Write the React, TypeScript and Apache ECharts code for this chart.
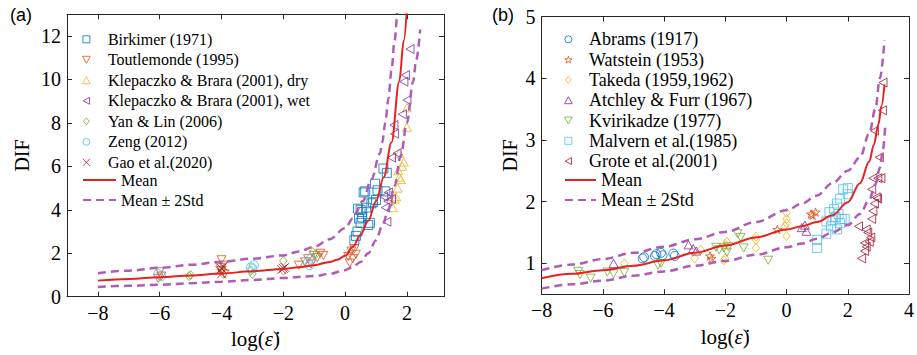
import { useEffect, useRef } from 'react';
import * as echarts from 'echarts';

// ---------- Panel (a) data ----------
const leftNames = [
  'Birkimer (1971)',
  'Toutlemonde (1995)',
  'Klepaczko & Brara (2001), dry',
  'Klepaczko & Brara (2001), wet',
  'Yan & Lin (2006)',
  'Zeng (2012)',
  'Gao et al.(2020)',
];
const birkimer = [[0.3,2.6],[0.35,2.8],[0.4,3.0],[0.45,3.6],[0.5,3.4],[0.5,4.0],[0.42,4.05],[0.55,3.9],[0.6,4.8],[0.65,4.85],[0.75,3.3],[0.8,3.4],[0.85,4.3],[0.9,4.35],[0.97,5.2],[1.0,4.45],[1.05,4.9],[1.24,5.9],[1.35,5.7],[1.3,4.85],[0.55,3.65],[0.68,4.1]];
const toutlemonde = [[-6,1.15],[-5.95,0.95],[-6.05,0.85],[-4,1.7],[-3.95,1.45],[-4,1.2],[-3.9,1.05],[-4.05,1.35],[-1.5,1.45],[-1.3,1.6],[-1.2,1.75],[-1.0,1.9],[-0.9,1.8],[-0.8,2.0],[-0.7,1.9],[-1.1,1.5],[0.1,1.85],[0.15,1.55],[0.2,2.1],[0.25,1.75],[0.3,2.2],[0.35,1.95]];
const klepDry = [[1.55,4.1],[1.6,4.5],[1.65,4.6],[1.7,5.0],[1.75,5.5],[1.72,5.8],[1.8,5.4],[1.85,6.0],[1.9,6.2],[1.75,6.6],[2.0,7.8],[2.0,8.7]];
const klepWet = [[1.35,3.45],[1.3,4.1],[1.38,4.4],[1.4,4.8],[1.25,4.6],[1.5,4.5],[1.5,6.4],[1.68,6.6],[1.6,7.5],[1.58,7.9],[1.85,8.4],[2.0,9.05],[1.9,9.9],[1.95,10.2],[2.1,11.4]];
const yanLin = [[-5,1.0],[-5.05,0.95],[-4,1.25],[-3.95,1.05],[-3.0,1.05],[-3.05,1.2],[-2,1.65],[-2,1.2],[-1.05,2.05],[-0.95,1.95]];
const zeng = [[-6.05,1.05],[-5.95,0.95],[-3.05,1.35],[-2.95,1.45],[-3.0,1.3],[-1.15,1.45],[-1.1,1.75],[-1.2,1.6]];
const gao = [[-4,1.3],[-4.05,1.2],[-3.95,1.4],[-4,1.05],[-2,1.3],[-2.05,1.25],[-1.95,1.35]];

const leftMean = [[-8,0.74],[-7,0.82],[-6,0.9],[-5,0.98],[-4,1.07],[-3,1.17],[-2,1.28],[-1.5,1.35],[-1,1.45],[-0.5,1.6],[-0.25,1.7],[0,1.88],[0.25,2.3],[0.5,2.85],[0.75,3.5],[1.0,4.4],[1.25,5.5],[1.5,7.1],[1.75,9.9],[1.9,11.8],[2.0,13.3]];
const leftUpper = [[-8,1.08],[-7,1.2],[-6,1.33],[-5,1.47],[-4,1.61],[-3,1.75],[-2,1.9],[-1.5,2.08],[-1,2.3],[-0.5,2.65],[0,3.15],[0.25,3.6],[0.57,4.4],[0.85,5.4],[1.13,6.6],[1.2,7.1],[1.3,8.0],[1.4,9.1],[1.5,10.4],[1.6,11.8],[1.68,13.1]];
const leftLower = [[-8,0.45],[-7,0.5],[-6,0.55],[-5,0.62],[-4,0.69],[-3,0.77],[-2,0.86],[-1,0.95],[-0.5,1.05],[0,1.22],[0.25,1.37],[0.5,1.6],[0.75,2.0],[1.0,2.6],[1.2,3.25],[1.4,4.0],[1.6,5.1],[1.8,6.5],[2.0,8.0],[2.2,9.9],[2.3,10.9],[2.43,12.3]];

// ---------- Panel (b) data ----------
const rightNames = [
  'Abrams (1917)',
  'Watstein (1953)',
  'Takeda (1959,1962)',
  'Atchley & Furr (1967)',
  'Kvirikadze (1977)',
  'Malvern et al.(1985)',
  'Grote et al.(2001)',
];
const abrams = [[-4.7,1.08],[-4.65,1.1],[-4.3,1.12],[-4.25,1.15],[-4.1,1.17],[-4.05,1.13],[-3.7,1.16],[-3.65,1.12]];
const watstein = [[-2.5,1.12],[-2.45,1.08],[-0.3,1.55],[0.8,1.8],[0.95,1.83],[0.85,1.78]];
const takeda = [[-5.3,1.0],[-3.0,1.08],[-2.8,1.22],[-2.0,1.3],[-2.0,1.08],[-1.95,1.35],[-2.05,1.05],[-1.0,1.43],[-1.0,1.38],[-1.0,1.25],[0,1.82],[0,1.72],[0,1.65],[0,1.44],[-0.05,1.6]];
const atchley = [[-5.65,1.0],[-3.2,1.3],[-3.05,1.24],[-2.95,1.2],[0.5,1.58],[0.6,1.62],[0.65,1.52]];
const kvirikadze = [[-6.8,0.87],[-6.75,0.82],[-6.4,0.76],[-5.85,0.86],[-5.65,0.83],[-5.3,0.85],[-4.2,0.97],[-4.1,1.0],[-2.3,1.26],[-2.2,1.22],[-2.05,1.25],[-1.95,1.18],[-1.9,1.27],[-1.6,1.48],[-1.5,1.42],[-1.4,1.25],[-0.6,1.05]];
const malvern = [[1.0,1.38],[1.0,1.25],[1.3,1.48],[1.3,1.68],[1.4,1.83],[1.55,1.88],[1.65,1.97],[1.75,2.05],[1.85,2.2],[2.0,2.22],[2.0,2.12],[1.8,1.72],[1.9,1.72],[1.5,1.7],[1.65,1.55],[1.7,1.8],[1.6,1.75],[1.45,1.6],[1.75,1.65]];
const grote = [[2.35,1.6],[2.45,1.08],[2.55,1.2],[2.6,1.27],[2.55,1.33],[2.65,1.5],[2.6,1.55],[2.75,1.42],[2.78,1.72],[2.82,1.85],[2.87,1.97],[2.93,2.07],[2.97,2.05],[2.78,2.2],[2.82,2.38],[2.98,2.38],[3.08,2.38],[3.03,2.72],[2.87,3.15],[3.13,3.48],[3.15,3.93],[2.7,1.35]];

const rightMean = [[-8,0.76],[-7,0.83],[-6,0.89],[-5,0.96],[-4,1.05],[-3,1.17],[-2,1.29],[-1,1.42],[0,1.55],[0.5,1.6],[1.0,1.67],[1.5,1.78],[2.0,1.99],[2.4,2.3],[2.7,2.65],[2.85,2.92],[3.0,3.25],[3.1,3.55],[3.2,3.9]];
const rightUpper = [[-8,0.89],[-7,0.98],[-6,1.07],[-5,1.17],[-4,1.27],[-3,1.39],[-2,1.51],[-1,1.67],[0,1.86],[0.5,1.97],[1.0,2.1],[1.5,2.3],[2.0,2.5],[2.4,2.72],[2.7,3.1],[2.9,3.5],[3.05,4.0],[3.2,4.62]];
const rightLower = [[-8,0.59],[-7,0.66],[-6,0.72],[-5,0.8],[-4,0.87],[-3,0.96],[-2,1.04],[-1,1.14],[0,1.26],[0.5,1.32],[1.0,1.4],[1.5,1.5],[2.0,1.62],[2.4,1.8],[2.7,2.03],[2.9,2.28],[3.05,2.55],[3.15,2.85],[3.22,3.2]];

// ---------- Ticks ----------
const leftXTicks = [-8, -6, -4, -2, 0, 2];
const leftYTicks = [0, 2, 4, 6, 8, 10, 12];
const rightXTicks = [-8, -6, -4, -2, 0, 2, 4];
const rightYTicks = [1, 2, 3, 4, 5];

// ---------- Styles ----------
const COLORS = ['#0072BD', '#D95319', '#EDB120', '#7E2F8E', '#77AC30', '#4DBEEE', '#A2142F'];
const SERIF = "'Liberation Serif', 'Times New Roman', serif";
const SANS = "'Liberation Sans', Arial, sans-serif";
const RED = '#E8201E';
const DASH = '#B05CB5';
const AXIS = '#262626';

const SYM = {
  square: 'path://M0,0L10,0L10,10L0,10Z',
  triUp: 'path://M5,0L10,9L0,9Z',
  triDown: 'path://M0,0L10,0L5,9Z',
  triLeft: 'path://M9,0L9,10L0,5Z',
  diamond: 'path://M5,0L10,6L5,12L0,6Z',
  circle: 'path://M10,5A5,5 0 1 1 0,5A5,5 0 1 1 10,5Z',
  cross: 'path://M0,0L10,10M10,0L0,10',
  star: 'path://M5,0L6.123,3.455L9.755,3.455L6.817,5.59L7.939,9.045L5,6.91L2.061,9.045L3.183,5.59L0.245,3.455L3.877,3.455Z',
};

const leftData = [birkimer, toutlemonde, klepDry, klepWet, yanLin, zeng, gao];
const leftSyms = [SYM.square, SYM.triDown, SYM.triUp, SYM.triLeft, SYM.diamond, SYM.circle, SYM.cross];
const rightData = [abrams, watstein, takeda, atchley, kvirikadze, malvern, grote];
const rightSyms = [SYM.circle, SYM.star, SYM.diamond, SYM.triUp, SYM.triDown, SYM.square, SYM.triLeft];

const fmt = (v: number) => String(v).replace('-', '\u2212');

function bottomAxis(grid: number, min: number, max: number, ticks: number[]) {
  return {
    type: 'value', gridIndex: grid, min, max, position: 'bottom',
    axisLine: { show: true, onZero: false, lineStyle: { color: AXIS, width: 1 } },
    axisTick: { show: true, inside: true, length: 5, customValues: ticks, lineStyle: { color: AXIS } },
    axisLabel: { show: true, customValues: ticks, formatter: fmt, fontFamily: SERIF, fontSize: 20, color: '#000', margin: 6 },
    splitLine: { show: false },
    name: '{a|log(}{b|\u03b5\u0307}{a|)}',
    nameLocation: 'middle', nameGap: 32,
    nameTextStyle: {
      rich: {
        a: { fontFamily: SERIF, fontSize: 21, color: '#000' },
        b: { fontFamily: SERIF, fontSize: 21, fontStyle: 'italic', color: '#000' },
      },
    },
  };
}
function topAxis(grid: number, min: number, max: number, ticks: number[]) {
  return {
    type: 'value', gridIndex: grid, min, max, position: 'top',
    axisLine: { show: true, onZero: false, lineStyle: { color: AXIS, width: 1 } },
    axisTick: { show: true, inside: true, length: 5, customValues: ticks, lineStyle: { color: AXIS } },
    axisLabel: { show: false },
    splitLine: { show: false },
  };
}
function leftAxis(grid: number, min: number, max: number, ticks: number[], gap: number) {
  return {
    type: 'value', gridIndex: grid, min, max, position: 'left',
    axisLine: { show: true, onZero: false, lineStyle: { color: AXIS, width: 1 } },
    axisTick: { show: true, inside: true, length: 5, customValues: ticks, lineStyle: { color: AXIS } },
    axisLabel: { show: true, customValues: ticks, formatter: fmt, fontFamily: SERIF, fontSize: 20, color: '#000', margin: 6 },
    splitLine: { show: false },
    name: 'DIF', nameLocation: 'middle', nameGap: gap,
    nameTextStyle: { fontFamily: SERIF, fontSize: 20, color: '#000' },
  };
}
function rightAxis(grid: number, min: number, max: number, ticks: number[]) {
  return {
    type: 'value', gridIndex: grid, min, max, position: 'right',
    axisLine: { show: true, onZero: false, lineStyle: { color: AXIS, width: 1 } },
    axisTick: { show: true, inside: true, length: 5, customValues: ticks, lineStyle: { color: AXIS } },
    axisLabel: { show: false },
    splitLine: { show: false },
  };
}

function scatterSeries(names: string[], data: number[][][], syms: string[], axis: number) {
  return names.map((name, i) => ({
    type: 'scatter', name, xAxisIndex: axis, yAxisIndex: axis,
    data: data[i], symbol: syms[i], symbolSize: 9, symbolKeepAspect: true,
    itemStyle: { color: 'rgba(0,0,0,0)', borderColor: COLORS[i], borderWidth: 1 },
  }));
}
function lineSeries(name: string, data: number[][], axis: number, color: string, dashed: boolean) {
  return {
    type: 'line', name, xAxisIndex: axis, yAxisIndex: axis, data,
    symbol: 'none', showSymbol: false, smooth: 0.35, smoothMonotone: 'x', clip: true,
    lineStyle: { color, width: dashed ? 2.5 : 2, type: dashed ? [8, 5] : 'solid' },
    itemStyle: { color },
    z: 3,
  };
}

function scatterLegend(names: string[], syms: string[], left: number, top: number, width: number, fontSize: number, gap: number) {
  return {
    orient: 'vertical', left, top, padding: 0, itemWidth: width, itemHeight: 7, itemGap: gap,
    selectedMode: false,
    textStyle: { fontFamily: SERIF, fontSize, lineHeight: fontSize, color: '#000' },
    data: names.map((name, i) => ({
      name, icon: syms[i],
      itemStyle: { color: 'rgba(0,0,0,0)', borderColor: COLORS[i], borderWidth: 1 },
    })),
  };
}
function lineLegend(left: number, top: number, width: number, fontSize: number, gap: number) {
  const hidden = { color: 'rgba(0,0,0,0)', borderColor: 'rgba(0,0,0,0)', borderWidth: 0 };
  return {
    orient: 'vertical', left, top, padding: 0, itemWidth: width, itemHeight: 10, itemGap: gap,
    selectedMode: false,
    textStyle: { fontFamily: SERIF, fontSize, lineHeight: fontSize, color: '#000' },
    data: [
      { name: 'Mean', itemStyle: hidden },
      { name: 'Mean \u00b1 2Std', itemStyle: hidden },
    ],
  };
}

export default function App() {
  const ref = useRef<HTMLDivElement>(null);
  useEffect(() => {
    if (!ref.current) return;
    const chart = echarts.init(ref.current, null, { renderer: 'svg' });
    chart.setOption({
      animation: false,
      backgroundColor: '#fff',
      grid: [
        { left: 67, top: 14.3, width: 377, height: 282.4, show: false },
        { left: 541.6, top: 16.6, width: 375.6, height: 277.6, show: false },
      ],
      xAxis: [
        bottomAxis(0, -9, 3.2, leftXTicks),
        topAxis(0, -9, 3.2, leftXTicks),
        bottomAxis(1, -8, 4, rightXTicks),
        topAxis(1, -8, 4, rightXTicks),
      ],
      yAxis: [
        leftAxis(0, 0, 13, leftYTicks, 35),
        rightAxis(0, 0, 13, leftYTicks),
        leftAxis(1, 0.5, 5, rightYTicks, 22),
        rightAxis(1, 0.5, 5, rightYTicks),
      ],
      legend: [
        scatterLegend(leftNames, leftSyms, 82, 31.3, 33, 16, 4.5),
        lineLegend(82, 172, 33, 16, 4),
        scatterLegend(rightNames, rightSyms, 564, 30.3, 31, 18, 2.3),
        lineLegend(564, 171, 31, 18, 2),
      ],
      graphic: [
        { type: 'text', left: 10, top: 6, style: { text: '(a)', fontFamily: SANS, fontSize: 18, fill: '#000' } },
        { type: 'text', left: 492, top: 6, style: { text: '(b)', fontFamily: SANS, fontSize: 18, fill: '#000' } },
      ],
      series: [
        ...scatterSeries(leftNames, leftData, leftSyms, 0),
        lineSeries('Mean', leftMean, 0, RED, false),
        lineSeries('Mean \u00b1 2Std', leftUpper, 0, DASH, true),
        lineSeries('Mean \u00b1 2Std', leftLower, 0, DASH, true),
        ...scatterSeries(rightNames, rightData, rightSyms, 2),
        lineSeries('Mean', rightMean, 2, RED, false),
        lineSeries('Mean \u00b1 2Std', rightUpper, 2, DASH, true),
        lineSeries('Mean \u00b1 2Std', rightLower, 2, DASH, true),
      ],
    });
    return () => chart.dispose();
  }, []);
  return <div ref={ref} style={{ position: 'fixed', left: 0, top: 0, width: 917, height: 355 }} />;
}
